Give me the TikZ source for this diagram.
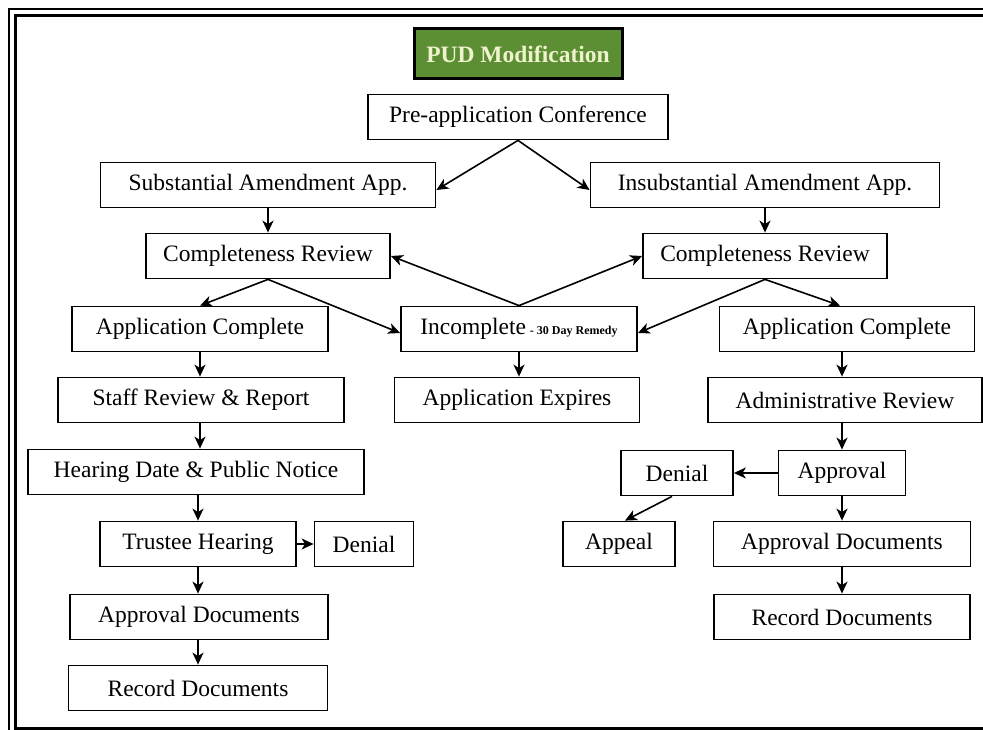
\documentclass[tikz,border=0pt]{standalone}
\usepackage{fontspec}
\setmainfont{Liberation Serif}
\usetikzlibrary{arrows.meta}

\definecolor{pudgreen}{RGB}{92,142,52}
\definecolor{pudtext}{RGB}{238,242,205}

\tikzset{
  box/.style={draw, line width=1.8pt, minimum height=45pt, inner sep=0pt,
    font=\fontsize{23.5}{26}\selectfont},
  arr/.style={-{Stealth[length=12pt,width=11pt,inset=3.5pt]}, line width=1.6pt}
}

\begin{document}
\begin{tikzpicture}[x=1pt,y=-1pt]
  \useasboundingbox (0,0) rectangle (983,730);
  \clip (0,0) rectangle (983,730);
  \fill[white] (0,0) rectangle (983,730);
  \draw[line width=2pt] (9,9) rectangle (1020,745);
  \draw[line width=3.5pt] (15.5,15.5) rectangle (1010,728.5);

  \node[draw, line width=3pt, fill=pudgreen, text=pudtext, minimum width=208pt,
    minimum height=50pt, inner sep=0pt, font=\fontsize{23.5}{26}\selectfont\bfseries]
    (title) at (518,54) {PUD Modification};

  \node[box, minimum width=300pt] (pre) at (518,117) {Pre-application Conference};
  \node[box, minimum width=335pt] (sub) at (268,185) {Substantial Amendment App.};
  \node[box, minimum width=349pt] (ins) at (765,185) {Insubstantial Amendment App.};
  \node[box, minimum width=244pt] (crl) at (268,256) {Completeness Review};
  \node[box, minimum width=244pt] (crr) at (765,256) {Completeness Review};
  \node[box, minimum width=256pt] (acl) at (200,329) {Application Complete};
  \node[box, minimum width=236pt] (inc) at (519,329)
    {Incomplete\,{\fontsize{12}{13}\selectfont\bfseries - 30 Day Remedy}};
  \node[box, minimum width=255pt] (acr) at (847,329) {Application Complete};
  \node[box, minimum width=286pt] (staff) at (201,400) {Staff Review \& Report};
  \node[box, minimum width=245pt] (exp) at (517,400) {Application Expires};
  \node[box, minimum width=274pt] (adm) at (845,400) {Administrative Review};
  \node[box, minimum width=336pt] (hear) at (196,472) {Hearing Date \& Public Notice};
  \node[box, minimum width=112pt] (denr) at (677,473) {Denial};
  \node[box, minimum width=127pt] (apr) at (842,473) {Approval};
  \node[box, minimum width=196pt] (trust) at (198,544) {Trustee Hearing};
  \node[box, minimum width=99pt] (denl) at (364,544) {Denial};
  \node[box, minimum width=112pt] (appeal) at (619,544) {Appeal};
  \node[box, minimum width=257pt] (adr) at (842,544) {Approval Documents};
  \node[box, minimum width=258pt] (adl) at (199,617) {Approval Documents};
  \node[box, minimum width=256pt] (rdr) at (842,617) {Record Documents};
  \node[box, minimum width=259pt] (rdl) at (198,688) {Record Documents};

  \draw[arr] (pre.south) -- ([yshift=-5pt]sub.east);
  \draw[arr] (pre.south) -- ([yshift=-5pt]ins.west);
  \draw[arr] (sub) -- (crl);
  \draw[arr] (ins) -- (crr);
  \draw[arr] (crl.south) -- (acl.north);
  \draw[arr] (crl.south) -- ([yshift=-4pt]inc.west);
  \draw[arr] (inc.north) -- (crl.east);
  \draw[arr] (inc.north) -- (crr.west);
  \draw[arr] (crr.south) -- ([yshift=-4pt]inc.east);
  \draw[arr] (crr.south) -- ([xshift=-7pt]acr.north);
  \draw[arr] (inc.south) -- (inc.south |- exp.north);
  \draw[arr] (acl.south) -- (acl.south |- staff.north);
  \draw[arr] (acl.south |- staff.south) -- (acl.south |- hear.north);
  \draw[arr] (trust.north |- hear.south) -- (trust.north);
  \draw[arr] (trust) -- (denl);
  \draw[arr] (trust.south) -- (trust.south |- adl.north);
  \draw[arr] (trust.south |- adl.south) -- (trust.south |- rdl.north);
  \draw[arr] (apr.north |- acr.south) -- (apr.north |- adm.north);
  \draw[arr] (apr.north |- adm.south) -- (apr.north);
  \draw[arr] (apr) -- (denr);
  \draw[arr] ([xshift=-5pt]denr.south) -- ([xshift=6pt]appeal.north);
  \draw[arr] (apr) -- (adr);
  \draw[arr] (adr) -- (rdr);
\end{tikzpicture}
\end{document}
